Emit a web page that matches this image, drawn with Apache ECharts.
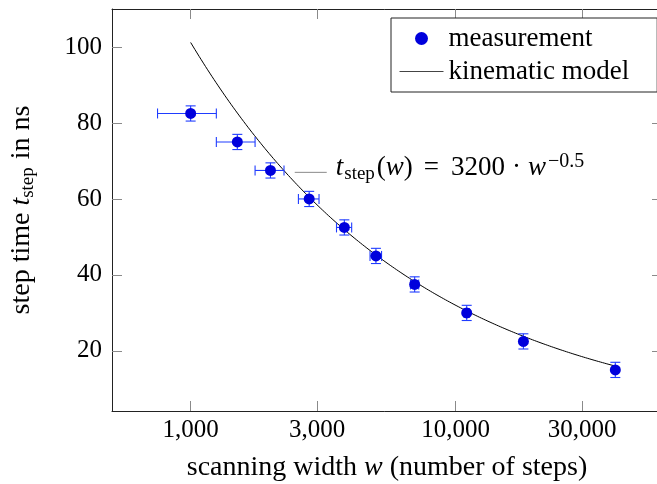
<!DOCTYPE html>
<html><head><meta charset="utf-8">
<script src="https://cdn.jsdelivr.net/npm/echarts@6/dist/echarts.min.js"></script>
<style>html,body{margin:0;padding:0;background:#fff;overflow:hidden}#c{width:657px;height:484px}</style>
</head><body><div id="c"></div>
<script>
// ---- data ----
const scanWidths  = [1000, 1500, 2000, 2800, 3800, 5000, 7000, 11000, 18000, 40000];
const stepTimes   = [82.5, 75, 67.5, 60, 52.5, 45, 37.5, 30, 22.5, 15];
const widthErrors = [250, 250, 250, 250, 250, 250, 250, 250, 250, 250];
const timeErrors  = [2, 2, 2, 2, 2, 2, 2, 2, 2, 2];
const xTickValues = [1000, 3000, 10000, 30000];
const yTickValues = [20, 40, 60, 80, 100];
const xLimits = [505, 60000];
const yLimits = [4.18, 110];
// kinematic model t_step(w) = 3200 * w^-0.5 on its plotted domain
const modelCoefficient = 3200;
const modelExponent = -0.5;
const modelDomain = [1000, 40000];
const annotationAnchor = [2470, 67];

const FONT = '"Liberation Serif", "Times New Roman", serif';
const markColor = '#0000dc';
const errColor = '#1f3cff';
const lg = Math.log10;

const measured = scanWidths.map((w, i) => [lg(w), stepTimes[i]]);
const errData = scanWidths.map((w, i) => [lg(w), stepTimes[i], w, widthErrors[i], timeErrors[i]]);
const modelData = [];
const N = 200;
for (let k = 0; k <= N; k++) {
  const lw = lg(modelDomain[0]) + (lg(modelDomain[1]) - lg(modelDomain[0])) * k / N;
  modelData.push([lw, modelCoefficient * Math.pow(Math.pow(10, lw), modelExponent)]);
}

const TS = 28;
const rich = {
  rm: {fontFamily: FONT, fontSize: TS, color: '#000'},
  it: {fontFamily: FONT, fontSize: TS, fontStyle: 'italic', color: '#000'},
  sub: {fontFamily: FONT, fontSize: 19, color: '#000', padding: [13, 1, 0, 0]}
};

const tickStyle = {color: '#8a8a8a', width: 1};
const lineStyle = {color: '#222', width: 1};
const xTicks = xTickValues.map(lg);

function xAxis(pos, showLabels) {
  return {
    type: 'value', position: pos, min: lg(xLimits[0]), max: lg(xLimits[1]),
    axisLine: {show: true, onZero: false, lineStyle: lineStyle},
    axisTick: {show: true, inside: true, length: 10, customValues: xTicks, lineStyle: tickStyle},
    axisLabel: {show: showLabels, customValues: xTicks, margin: 7, fontFamily: FONT, fontSize: 25, color: '#000',
      formatter: v => Math.round(Math.pow(10, v)).toLocaleString('en-US')},
    splitLine: {show: false},
    name: showLabels ? '{rm|scanning width }{it|w}{rm| (number of steps)}' : '',
    nameLocation: 'middle', nameGap: 43,
    nameTextStyle: {rich: rich}
  };
}
function yAxis(pos, showLabels) {
  return {
    type: 'value', position: pos, min: yLimits[0], max: yLimits[1],
    axisLine: {show: true, onZero: false, lineStyle: lineStyle},
    axisTick: {show: true, inside: true, length: 10, customValues: yTickValues, lineStyle: tickStyle},
    axisLabel: {show: showLabels, customValues: yTickValues, margin: 10, fontFamily: FONT, fontSize: 25, color: '#000'},
    splitLine: {show: false},
    name: showLabels ? '{rm|step time }{it|t}{sub|step}{rm| in ns}' : '',
    nameLocation: 'middle', nameGap: 74, nameRotate: 90,
    nameTextStyle: {rich: rich}
  };
}

const chart = echarts.init(document.getElementById('c'), null, {renderer: 'canvas'});
chart.setOption({
  animation: false,
  backgroundColor: '#fff',
  grid: {left: 112, right: -5, top: 9, bottom: 73, outerBoundsMode: 'none', containLabel: false},
  xAxis: [xAxis('bottom', true), xAxis('top', false)],
  yAxis: [yAxis('left', true), yAxis('right', false)],
  legend: {
    data: [
      {name: 'measurement', icon: 'circle', itemStyle: {color: markColor, opacity: 1}},
      {name: 'kinematic model', itemStyle: {opacity: 0}, lineStyle: {color: '#444', width: 1}}
    ],
    orient: 'vertical', left: 391, top: 18,
    padding: [7, 28, 7, 8], itemWidth: 44, itemHeight: 13, itemGap: 6,
    backgroundColor: '#fff', borderColor: '#222', borderWidth: 1, borderRadius: 0,
    textStyle: {fontFamily: FONT, fontSize: 27, color: '#000'}
  },
  series: [
    {
      name: 'kinematic model', type: 'line', data: modelData, xAxisIndex: 0, yAxisIndex: 0,
      showSymbol: false, symbol: 'none', smooth: false, z: 1,
      color: '#000', lineStyle: {color: '#000', width: 1}
    },
    {
      name: 'errors', type: 'custom', data: errData, xAxisIndex: 0, yAxisIndex: 0, z: 2,
      encode: {x: 0, y: 1},
      renderItem: function (params, api) {
        const lx = api.value(0), t = api.value(1), w = api.value(2), we = api.value(3), te = api.value(4);
        const c = api.coord([lx, t]);
        const l = api.coord([lg(w - we), t]);
        const r = api.coord([lg(w + we), t]);
        const tp = api.coord([lx, t + te]);
        const bt = api.coord([lx, t - te]);
        const cap = 5;
        const st = {stroke: errColor, lineWidth: 1.1};
        const seg = (x1, y1, x2, y2) => ({type: 'line', shape: {x1: x1, y1: y1, x2: x2, y2: y2}, style: st});
        return {type: 'group', children: [
          seg(l[0], c[1], r[0], c[1]),
          seg(l[0], c[1] - cap, l[0], c[1] + cap),
          seg(r[0], c[1] - cap, r[0], c[1] + cap),
          seg(c[0], tp[1], c[0], bt[1]),
          seg(c[0] - cap, tp[1], c[0] + cap, tp[1]),
          seg(c[0] - cap, bt[1], c[0] + cap, bt[1])
        ]};
      }
    },
    {
      name: 'measurement', type: 'scatter', data: measured, xAxisIndex: 0, yAxisIndex: 0,
      symbol: 'circle', symbolSize: 11, z: 3, color: markColor, itemStyle: {color: markColor, opacity: 1}
    }
  ]
});

const p = chart.convertToPixel({xAxisIndex: 0, yAxisIndex: 0}, [lg(annotationAnchor[0]), annotationAnchor[1]]);
chart.setOption({
  graphic: [
    {type: 'line', shape: {x1: p[0], y1: p[1], x2: p[0] + 32, y2: p[1]}, style: {stroke: '#8a8a8a', lineWidth: 1}, z: 10},
    {type: 'text', x: p[0] + 41, y: p[1] - 4.5, z: 10, style: {
      text: '{it|t}{sub|step}{rm|(}{it|w}{rm|)}{op|=}{rm|3200}{dot|·}{it|w}{sup|−0.5}',
      verticalAlign: 'middle', align: 'left',
      rich: {
        rm: {fontFamily: FONT, fontSize: 27, fill: '#000'},
        it: {fontFamily: FONT, fontSize: 27, fontStyle: 'italic', fill: '#000'},
        op: {fontFamily: FONT, fontSize: 27, fill: '#000', padding: [0, 12, 0, 11]},
        dot: {fontFamily: FONT, fontSize: 27, fill: '#000', padding: [0, 7, 0, 7]},
        sub: {fontFamily: FONT, fontSize: 19, fill: '#000', padding: [12, 2, 0, 1]},
        sup: {fontFamily: FONT, fontSize: 20, fill: '#000', padding: [0, 0, 13, 2]}
      }
    }}
  ]
});
</script>
</body></html>
